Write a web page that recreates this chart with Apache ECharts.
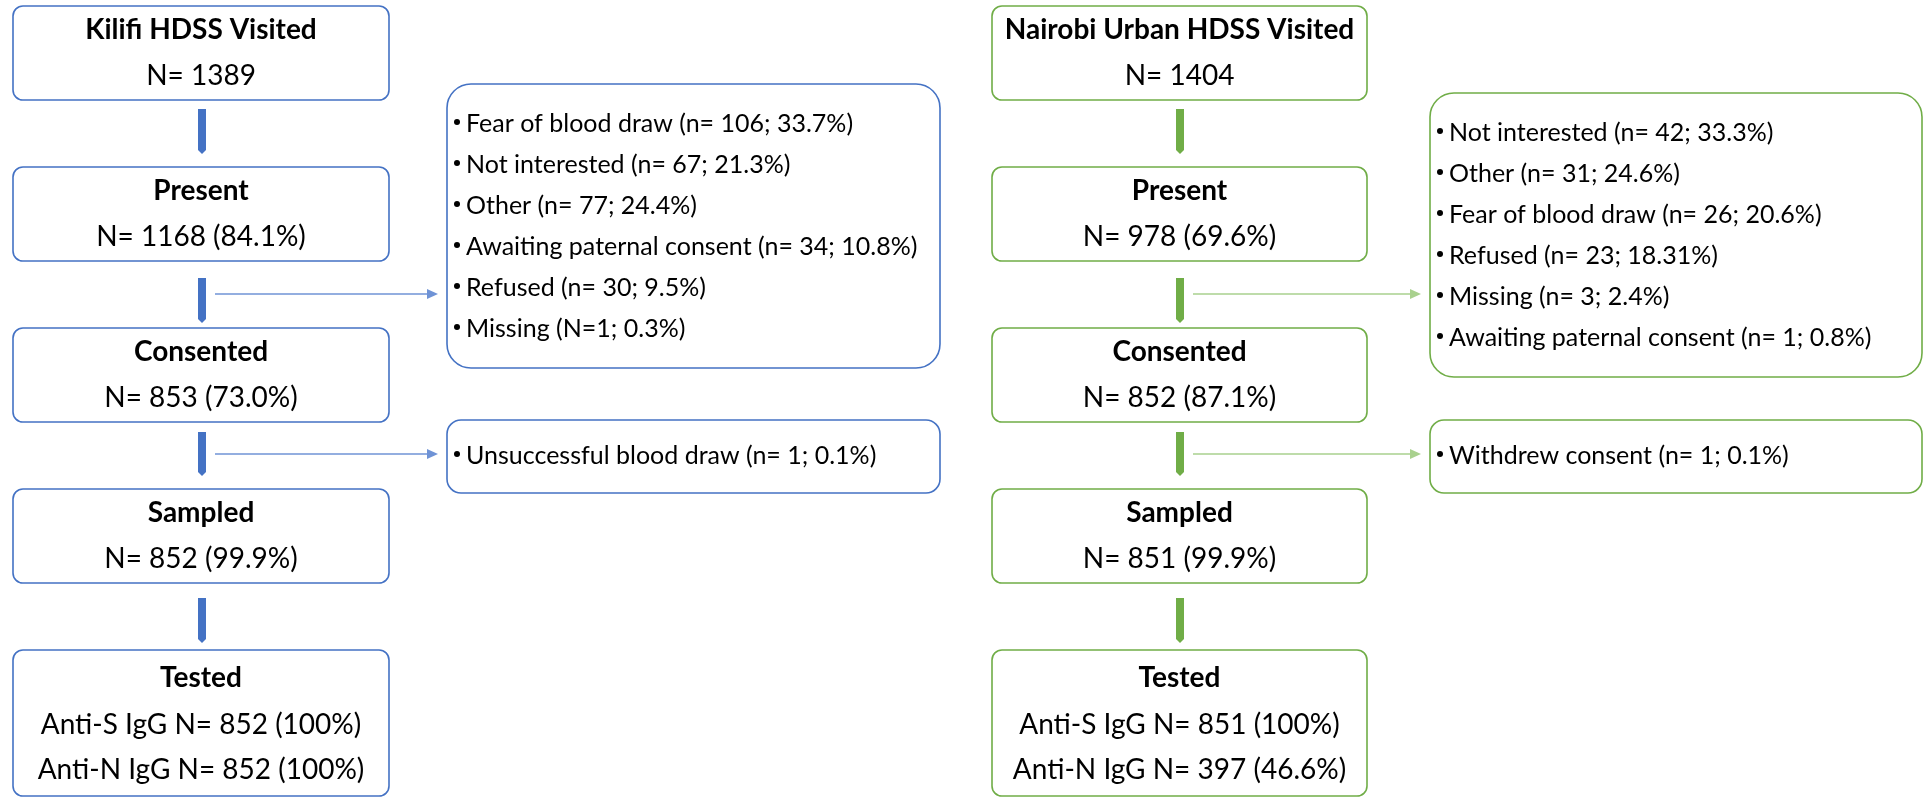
<!DOCTYPE html>
<html>
<head>
<meta charset="utf-8">
<script src="https://cdn.jsdelivr.net/npm/echarts@6/dist/echarts.min.js"></script>
<style>
    html, body { margin: 0; padding: 0; background: #fff; }
    #container { width: 1925px; height: 798px; }
</style>
</head>
<body>
<div id="container"></div>
<script>
// flow steps, same for both sites
var stepNames = ['Present', 'Consented', 'Sampled', 'Tested'];

var kilifiTitle = 'Kilifi HDSS Visited';
var kilifiCounts = ['N= 1389', 'N= 1168 (84.1%)', 'N= 853 (73.0%)', 'N= 852 (99.9%)'];
var kilifiTested = ['Anti-S IgG N= 852 (100%)', 'Anti-N IgG N= 852 (100%)'];
var kilifiNotConsented = [
    'Fear of blood draw (n= 106; 33.7%)',
    'Not interested (n= 67; 21.3%)',
    'Other (n= 77; 24.4%)',
    'Awaiting paternal consent (n= 34; 10.8%)',
    'Refused (n= 30; 9.5%)',
    'Missing (N=1; 0.3%)'
];
var kilifiNotSampled = ['Unsuccessful blood draw (n= 1; 0.1%)'];

var nairobiTitle = 'Nairobi Urban HDSS Visited';
var nairobiCounts = ['N= 1404', 'N= 978 (69.6%)', 'N= 852 (87.1%)', 'N= 851 (99.9%)'];
var nairobiTested = ['Anti-S IgG N= 851 (100%)', 'Anti-N IgG N= 397 (46.6%)'];
var nairobiNotConsented = [
    'Not interested (n= 42; 33.3%)',
    'Other (n= 31; 24.6%)',
    'Fear of blood draw (n= 26; 20.6%)',
    'Refused (n= 23; 18.31%)',
    'Missing (n= 3; 2.4%)',
    'Awaiting paternal consent (n= 1; 0.8%)'
];
var nairobiNotSampled = ['Withdrew consent (n= 1; 0.1%)'];

var FONT = 'Lato';
var rowTops = [6, 167, 328, 489, 650];
var rowHeights = [94, 94, 94, 94, 146];
var arrowYs = [[109, 154], [278, 323], [432, 476], [598, 643]];

function txt(x, y, s, size, bold, align) {
    return {
        type: 'text',
        z: 10,
        style: {
            text: s, x: x, y: y,
            fontFamily: FONT, fontSize: size, fontWeight: bold ? 'bold' : 'normal',
            fill: '#000',
            align: align || 'center', verticalAlign: 'middle',
            textAlign: align || 'center', textVerticalAlign: 'middle'
        }
    };
}

function buildSite(site) {
    var els = [];
    var titles = [site.title].concat(stepNames);
    var cx = site.boxLeft + site.boxWidth / 2;

    for (var i = 0; i < titles.length; i++) {
        var top = rowTops[i];
        els.push({
            type: 'rect',
            shape: { x: site.boxLeft, y: top, width: site.boxWidth, height: rowHeights[i], r: 10 },
            style: { fill: '#fff', stroke: site.color, lineWidth: 1.6 }
        });
        if (i < 4) {
            els.push(txt(cx, top + 24, titles[i], 28, true));
            els.push(txt(cx, top + 70, site.counts[i], 28, false));
        } else {
            els.push(txt(cx, top + 28, titles[i], 28, true));
            els.push(txt(cx, top + 75, site.tested[0], 28, false));
            els.push(txt(cx, top + 120, site.tested[1], 28, false));
        }
    }

    // thick down arrows
    arrowYs.forEach(function (a) {
        var ax = site.arrowX;
        els.push({
            type: 'polygon',
            shape: { points: [[ax - 4, a[0]], [ax + 4, a[0]], [ax + 4, a[1] - 4], [ax, a[1]], [ax - 4, a[1] - 4]] },
            style: { fill: site.color }
        });
    });

    // reason boxes
    var boxes = [
        { top: site.reasonTop, height: site.reasonHeight, r: 24, items: site.notConsented, first: site.reasonTop + 40, arrowY: 294 },
        { top: 420, height: 73, r: 14, items: site.notSampled, first: 456, arrowY: 454 }
    ];
    boxes.forEach(function (b) {
        els.push({
            type: 'rect',
            shape: { x: site.reasonLeft, y: b.top, width: site.reasonWidth, height: b.height, r: b.r },
            style: { fill: '#fff', stroke: site.color, lineWidth: 1.6 }
        });
        b.items.forEach(function (s, k) {
            var y = b.first + k * 41;
            els.push({
                type: 'circle',
                shape: { cx: site.reasonLeft + 10, cy: y - 2, r: 3 },
                style: { fill: '#000' }
            });
            els.push(txt(site.reasonLeft + 19, y, s, 25, false, 'left'));
        });
        // thin arrow into the box
        var x0 = site.arrowX + 13, x1 = site.reasonLeft - 9;
        els.push({
            type: 'line',
            shape: { x1: x0, y1: b.arrowY, x2: x1 - 8, y2: b.arrowY },
            style: { stroke: site.thin, lineWidth: 1.5 }
        });
        els.push({
            type: 'polygon',
            shape: { points: [[x1 - 11, b.arrowY - 5], [x1, b.arrowY], [x1 - 11, b.arrowY + 5]] },
            style: { fill: site.thin }
        });
    });
    return els;
}

var kilifi = {
    title: kilifiTitle, counts: kilifiCounts, tested: kilifiTested,
    notConsented: kilifiNotConsented, notSampled: kilifiNotSampled,
    boxLeft: 13, boxWidth: 376, arrowX: 202,
    reasonLeft: 447, reasonWidth: 493, reasonTop: 84, reasonHeight: 284,
    color: '#4472C4', thin: '#6F93D6'
};
var nairobi = {
    title: nairobiTitle, counts: nairobiCounts, tested: nairobiTested,
    notConsented: nairobiNotConsented, notSampled: nairobiNotSampled,
    boxLeft: 992, boxWidth: 375, arrowX: 1180,
    reasonLeft: 1430, reasonWidth: 492, reasonTop: 93, reasonHeight: 284,
    color: '#70AD47', thin: '#A9D18E'
};

var dom = document.getElementById('container');
var myChart = echarts.init(dom, null, { renderer: 'canvas' });

var option = {
    backgroundColor: '#fff',
    animation: false,
    graphic: { elements: buildSite(kilifi).concat(buildSite(nairobi)) }
};

myChart.setOption(option);
window.addEventListener('resize', myChart.resize);
</script>
</body>
</html>
